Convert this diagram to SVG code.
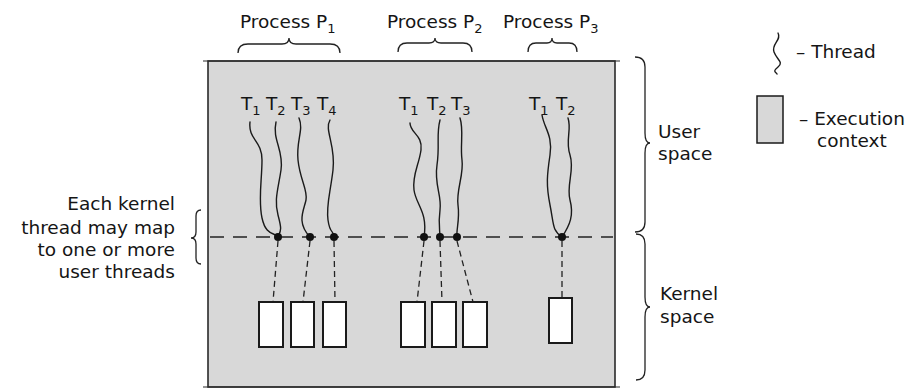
<svg xmlns="http://www.w3.org/2000/svg" width="924" height="392" viewBox="0 0 924 392">
<style>
  text { font-family: "DejaVu Sans", "Open Sans", sans-serif; font-size: 18.5px; fill: #151515; }
  .sub { font-size: 13px; }
  .thread { fill: none; stroke: #1a1a1a; stroke-width: 1.4; stroke-linecap: round; }
  .brace { fill: none; stroke: #222; stroke-width: 1.3; }
  .dash { fill: none; stroke: #222; stroke-width: 1.3; stroke-dasharray: 6 4; }
  .kline { fill: none; stroke: #222; stroke-width: 1.4; stroke-dasharray: 14 9; }
  .ctx { fill: #ffffff; stroke: #1a1a1a; stroke-width: 2; }
  .dot { fill: #111; }
</style>

<g id="space-area">
  <rect x="208" y="61" width="407" height="326" fill="#d8d8d8" stroke="#2a2a2a" stroke-width="1.6"/>
  <line x1="203" y1="61" x2="620" y2="61" stroke="#2a2a2a" stroke-width="1.2"/>
  <line x1="203" y1="387" x2="620" y2="387" stroke="#2a2a2a" stroke-width="1.2"/>
</g>

<g id="process-labels">
  <g id="p1-label">
    <text x="240" y="28">Process P<tspan class="sub" dy="5">1</tspan></text>
    <path class="brace" d="M238,53 Q238,44 248,44 L282,44 Q289,44 289,38 Q289,44 296,44 L330,44 Q340,44 340,53"/>
  </g>
  <g id="p2-label">
    <text x="387" y="28">Process P<tspan class="sub" dy="5">2</tspan></text>
    <path class="brace" d="M398,52 Q398,43 407,43 L429,43 Q435,43 435,38 Q435,43 441,43 L463,43 Q472,43 472,52"/>
  </g>
  <g id="p3-label">
    <text x="503" y="28">Process P<tspan class="sub" dy="5">3</tspan></text>
    <path class="brace" d="M528,52 Q528,43 536,43 L547,43 Q552,43 552,38 Q552,43 557,43 L569,43 Q577,43 577,52"/>
  </g>
</g>

<g id="thread-labels">
  <text x="241" y="110">T<tspan class="sub" dy="5">1</tspan></text>
  <text x="266" y="110">T<tspan class="sub" dy="5">2</tspan></text>
  <text x="291" y="110">T<tspan class="sub" dy="5">3</tspan></text>
  <text x="317" y="110">T<tspan class="sub" dy="5">4</tspan></text>
  <text x="399" y="110">T<tspan class="sub" dy="5">1</tspan></text>
  <text x="427" y="110">T<tspan class="sub" dy="5">2</tspan></text>
  <text x="451" y="110">T<tspan class="sub" dy="5">3</tspan></text>
  <text x="529" y="110">T<tspan class="sub" dy="5">1</tspan></text>
  <text x="556" y="110">T<tspan class="sub" dy="5">2</tspan></text>
</g>

<g id="user-threads">
  <path class="thread" d="M250,122 C248,140 262,140 262,160 S258,200 262,218 S274,232 278,237"/>
  <path class="thread" d="M276,122 C272,140 284,150 281,170 S274,200 278,215 S281,230 278,237"/>
  <path class="thread" d="M299,118 C304,130 296,140 298,160 S308,190 306,200 S296,222 310,237"/>
  <path class="thread" d="M330,120 C324,130 336,145 333,170 S326,205 328,220 S334,230 334,237"/>
  <path class="thread" d="M410,123 C410,133 423,135 421,150 S412,175 414,190 S428,212 424,237"/>
  <path class="thread" d="M440,120 C436,135 440,145 437,165 S442,195 440,210 S440,230 440,237"/>
  <path class="thread" d="M460,118 C464,130 460,145 462,160 S456,190 458,205 S456,230 457,237"/>
  <path class="thread" d="M542,115 C544,128 553,135 550,155 S546,185 550,205 S552,230 562,237"/>
  <path class="thread" d="M568,118 C572,130 565,140 570,155 S566,185 570,200 S570,225 562,237"/>
</g>

<g id="kernel-boundary">
  <line class="kline" x1="210" y1="237" x2="613" y2="237"/>
</g>

<g id="kernel-threads">
  <circle class="dot" cx="278" cy="237" r="4"/>
  <circle class="dot" cx="310" cy="237" r="4"/>
  <circle class="dot" cx="334" cy="237" r="4"/>
  <circle class="dot" cx="424" cy="237" r="4"/>
  <circle class="dot" cx="440" cy="237" r="4"/>
  <circle class="dot" cx="457" cy="237" r="4"/>
  <circle class="dot" cx="562" cy="237" r="4"/>
</g>

<g id="connectors">
  <line class="dash" x1="278" y1="241" x2="273" y2="302"/>
  <line class="dash" x1="310" y1="241" x2="303" y2="302"/>
  <line class="dash" x1="334" y1="241" x2="335" y2="302"/>
  <line class="dash" x1="424" y1="241" x2="417" y2="302"/>
  <line class="dash" x1="440" y1="241" x2="442" y2="302"/>
  <line class="dash" x1="457" y1="241" x2="473" y2="302"/>
  <line class="dash" x1="562" y1="241" x2="562" y2="298"/>
</g>

<g id="execution-contexts">
  <rect class="ctx" x="259" y="302" width="24" height="45"/>
  <rect class="ctx" x="291" y="302" width="23" height="45"/>
  <rect class="ctx" x="323" y="302" width="23" height="45"/>
  <rect class="ctx" x="401" y="302" width="24" height="45"/>
  <rect class="ctx" x="432" y="302" width="24" height="45"/>
  <rect class="ctx" x="463" y="302" width="24" height="45"/>
  <rect class="ctx" x="549" y="298" width="23" height="45"/>
</g>

<g id="user-space-label">
  <path class="brace" d="M635,57 Q645,57 645,67 L645,133 Q645,143 650,143 Q645,143 645,153 L645,222 Q645,232 635,232"/>
  <text x="658" y="138">User</text>
  <text x="658" y="160">space</text>
</g>

<g id="kernel-space-label">
  <path class="brace" d="M636,234 Q645,234 645,244 L645,297 Q645,307 650,307 Q645,307 645,317 L645,370 Q645,380 636,380"/>
  <text x="660" y="300">Kernel</text>
  <text x="660" y="323">space</text>
</g>

<g id="mapping-note">
  <path class="brace" d="M201,210 Q196,210 196,216 L196,232 Q196,238 191,238 Q196,238 196,244 L196,258 Q196,264 201,264"/>
  <text x="175" y="210" text-anchor="end">Each kernel</text>
  <text x="175" y="234" text-anchor="end">thread may map</text>
  <text x="175" y="256" text-anchor="end">to one or more</text>
  <text x="175" y="278" text-anchor="end">user threads</text>
</g>

<g id="legend">
  <g id="legend-thread">
    <path class="thread" d="M778,33 C782,40 771,44 774,52 S784,62 778,67 S776,72 777,74"/>
    <text x="796" y="58">– Thread</text>
  </g>
  <g id="legend-context">
    <rect x="757" y="96" width="26" height="47" fill="#d8d8d8" stroke="#1a1a1a" stroke-width="1.5"/>
    <text x="799" y="125">– Execution</text>
    <text x="817" y="147">context</text>
  </g>
</g>
</svg>
